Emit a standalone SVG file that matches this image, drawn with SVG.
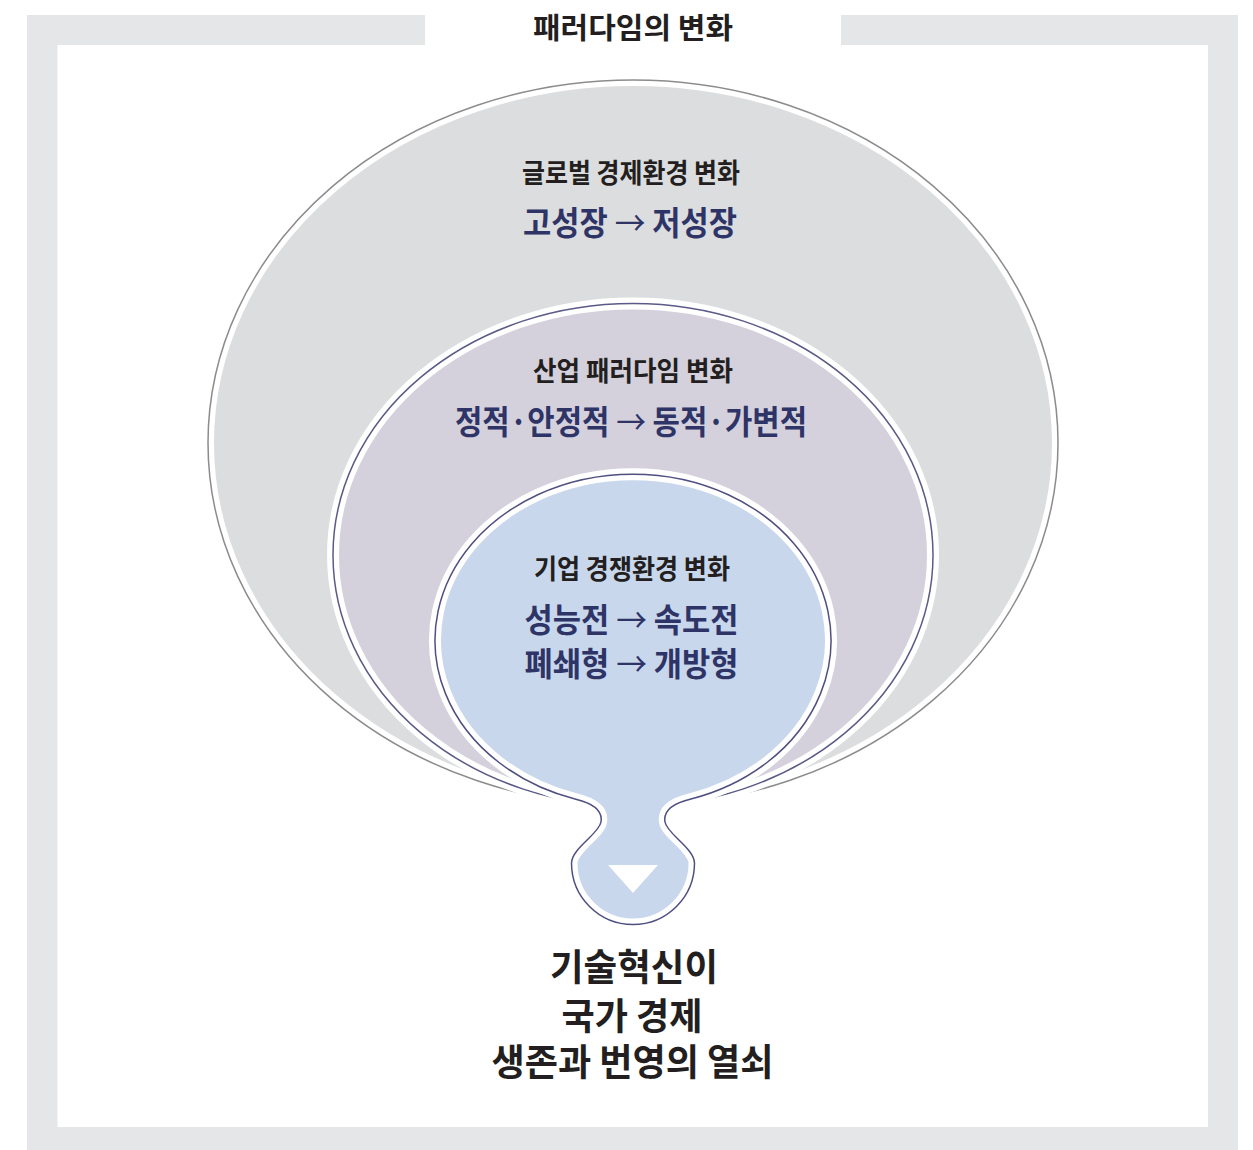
<svg xmlns="http://www.w3.org/2000/svg" width="1253" height="1150" viewBox="0 0 1253 1150">
<style>
.t{font-family:"Noto Sans CJK KR","Noto Sans",sans-serif;font-weight:700;text-anchor:middle}
.sub{font-size:27px;fill:#231f20}
.nav{font-size:33px;fill:#2f3467}
.big{font-size:37px;fill:#231f20}
.ar{font-weight:400}
.band{fill:none;stroke:#ffffff;stroke-width:12}
</style>
<defs>
<path id="dropPath" d="M575,799 C592,803 603,810 601,822 C599,834 572,848 571.5,863 A61.5,61.5 0 0 0 694.5,863 C694,848 667,834 665,822 C663,810 674,803 691,799 A198,166 0 1 0 575,799 Z"/>
</defs>
<rect width="1253" height="1150" fill="#ffffff"/>
<g id="frame">
<rect x="27" y="15" width="1211" height="1135" fill="#e5e6e8"/>
<rect x="57.5" y="45" width="1150.5" height="1082" fill="#ffffff"/>
<rect x="425" y="15" width="416" height="30" fill="#ffffff"/>
<text class="t" x="633" y="39" style="font-size:29px;fill:#231f20" textLength="200" lengthAdjust="spacingAndGlyphs">패러다임의 변화</text>
</g>
<g id="connectors"></g>
<g id="global">
<ellipse cx="633" cy="443" rx="425" ry="363" fill="#dcdddf"/>
<ellipse class="band" cx="633" cy="443" rx="425" ry="363"/>
<ellipse cx="633" cy="443" rx="425" ry="363" fill="none" stroke="#8c8c8e" stroke-width="1.5"/>
<text class="t sub" x="631" y="183" textLength="218" lengthAdjust="spacingAndGlyphs">글로벌 경제환경 변화</text>
<text class="t nav" x="630" y="235" textLength="214" lengthAdjust="spacingAndGlyphs">고성장 <tspan class="ar">→</tspan> 저성장</text>
</g>
<g id="industry">
<ellipse cx="633" cy="555" rx="300" ry="251.5" fill="#d4d1dd"/>
<ellipse class="band" cx="633" cy="555" rx="300" ry="251.5"/>
<ellipse cx="633" cy="555" rx="300" ry="251.5" fill="none" stroke="#5b5a88" stroke-width="1.5"/>
<text class="t sub" x="633" y="381" textLength="200" lengthAdjust="spacingAndGlyphs">산업 패러다임 변화</text>
<text class="t nav" x="631" y="434" textLength="352" lengthAdjust="spacingAndGlyphs">정적·안정적 <tspan class="ar">→</tspan> 동적·가변적</text>
</g>
<g id="company">
<use href="#dropPath" fill="#c8d7ec"/>
<use href="#dropPath" class="band"/>
<use href="#dropPath" fill="none" stroke="#4f4f82" stroke-width="1.5"/>
<polygon points="608,865 658,865 633,893" fill="#ffffff"/>
<text class="t sub" x="632" y="579" textLength="196" lengthAdjust="spacingAndGlyphs">기업 경쟁환경 변화</text>
<text class="t nav" x="631.5" y="632" textLength="214" lengthAdjust="spacingAndGlyphs">성능전 <tspan class="ar">→</tspan> 속도전</text>
<text class="t nav" x="631.5" y="676" textLength="214" lengthAdjust="spacingAndGlyphs">폐쇄형 <tspan class="ar">→</tspan> 개방형</text>
</g>
<g id="conclusion">
<text class="t big" x="634" y="981" textLength="168" lengthAdjust="spacingAndGlyphs">기술혁신이</text>
<text class="t big" x="632" y="1030" textLength="141" lengthAdjust="spacingAndGlyphs">국가 경제</text>
<text class="t big" x="632.5" y="1076" textLength="282" lengthAdjust="spacingAndGlyphs">생존과 번영의 열쇠</text>
</g>
</svg>
